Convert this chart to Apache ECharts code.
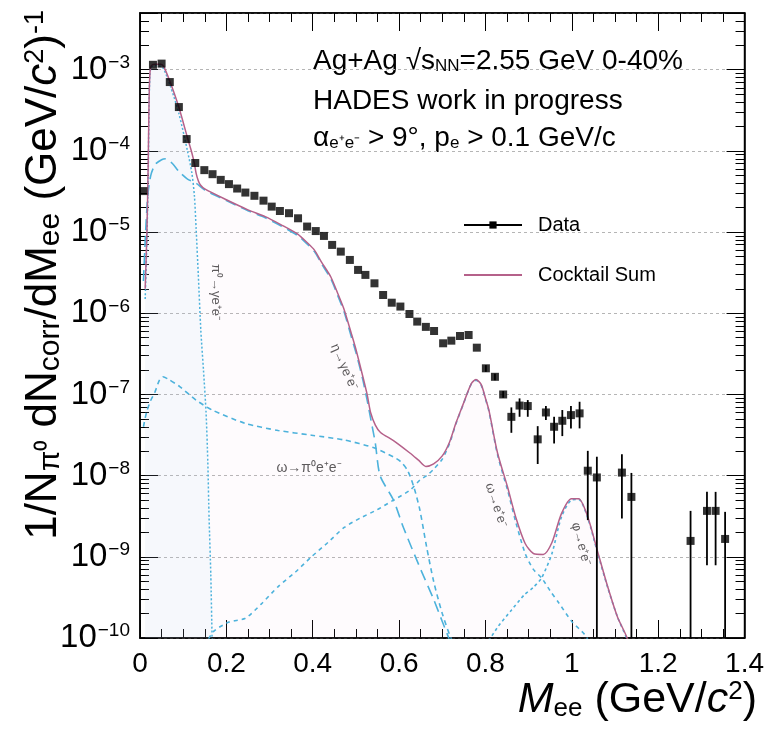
<!DOCTYPE html>
<html><head><meta charset="utf-8">
<script src="https://cdn.jsdelivr.net/npm/echarts@6/dist/echarts.min.js"></script>
<style>html,body{margin:0;padding:0;background:#fff}#c{width:767px;height:731px;background:#fff}</style>
</head><body><div id="c"></div>
<script>
// ---------- data ----------
const dataM = [0.008,0.030,0.050,0.069,0.090,0.108,0.128,0.149,0.168,0.187,0.206,0.225,0.244,0.265,0.286,0.305,0.324,0.345,0.366,0.387,0.407,0.426,0.445,0.465,0.486,0.505,0.522,0.543,0.563,0.583,0.603,0.624,0.642,0.662,0.681,0.702,0.721,0.741,0.761,0.780,0.801,0.822,0.841,0.860,0.879,0.898,0.921,0.940,0.959,0.978,0.998,1.018,1.037,1.058,1.116,1.138,1.275,1.313,1.333,1.355];
const dataY = [3.2e-5,1.15e-3,1.19e-3,7.05e-4,3.47e-4,1.40e-4,7.1e-5,5.8e-5,5.17e-5,4.4e-5,3.9e-5,3.44e-5,3.07e-5,2.8e-5,2.44e-5,2.06e-5,1.82e-5,1.71e-5,1.48e-5,1.17e-5,1.03e-5,8.97e-6,6.95e-6,5.75e-6,4.54e-6,3.42e-6,2.97e-6,2.34e-6,1.68e-6,1.35e-6,1.21e-6,9.8e-7,7.9e-7,6.8e-7,6.05e-7,4.27e-7,4.6e-7,5.25e-7,5.4e-7,3.77e-7,2.1e-7,1.65e-7,1.0e-7,5.3e-8,7.3e-8,7.2e-8,2.8e-8,6.0e-8,4.0e-8,4.74e-8,5.57e-8,5.85e-8,1.15e-8,9.5e-9,1.09e-8,5.47e-9,1.57e-9,3.68e-9,3.68e-9,1.66e-9];
// error bars (subset of points with visible errors)
const errM  = [0.801,0.822,0.841,0.860,0.879,0.898,0.921,0.940,0.959,0.978,0.998,1.018,1.037,1.058,1.116,1.138,1.275,1.313,1.333,1.355];
const errLo = [1.9e-7,1.5e-7,9.1e-8,3.37e-8,5.31e-8,5.31e-8,1.39e-8,4.83e-8,2.49e-8,3.07e-8,3.82e-8,3.82e-8,2.83e-9,1e-10,2.96e-9,1e-10,1e-10,7.87e-10,7.87e-10,1e-10];
const errHi = [2.3e-7,1.8e-7,1.1e-7,6.93e-8,8.95e-8,8.53e-8,4.07e-8,7.19e-8,5.31e-8,6.43e-8,7.19e-8,8.13e-8,2.02e-8,1.71e-8,1.84e-8,1.08e-8,3.68e-9,6.31e-9,6.31e-9,3.58e-9];

const sumM = [0.012,0.016,0.019,0.021,0.023,0.026,0.035,0.048,0.055,0.07,0.09,0.11,0.12,0.126,0.13,0.135,0.14,0.15,0.2,0.25,0.29,0.327,0.366,0.385,0.404,0.42,0.442,0.458,0.473,0.49,0.5,0.515,0.526,0.534,0.545,0.557,0.587,0.625,0.645,0.662,0.68,0.7,0.717,0.732,0.748,0.767,0.778,0.79,0.8,0.808,0.828,0.851,0.87,0.892,0.911,0.934,0.954,0.976,0.999,1.016,1.037,1.059,1.083,1.106,1.128,1.14];
const sumY = [2e-6,1e-5,7e-5,4.2e-4,9e-4,1.12e-3,1.17e-3,1.17e-3,1.09e-3,7.0e-4,3.45e-4,1.45e-4,9.5e-5,7e-5,5.3e-5,4.3e-5,3.8e-5,3.4e-5,2.5e-5,1.88e-5,1.55e-5,1.23e-5,9.4e-6,7.6e-6,6.0e-6,4.3e-6,2.8e-6,1.75e-6,1.1e-6,5.5e-7,3.6e-7,1.75e-7,1.0e-7,6.0e-8,4.2e-8,3.4e-8,2.7e-8,1.9e-8,1.55e-8,1.3e-8,1.4e-8,1.75e-8,2.6e-8,4.5e-8,7.5e-8,1.35e-7,1.53e-7,1.33e-7,9e-8,6.4e-8,1.9e-8,7.3e-9,3.1e-9,1.46e-9,1.1e-9,1.07e-9,1.5e-9,3.4e-9,5.2e-9,5.2e-9,3.1e-9,1.2e-9,4.3e-10,1.8e-10,1.0e-10,5e-11];

const pi0M = [0.012,0.016,0.019,0.021,0.023,0.026,0.035,0.048,0.055,0.07,0.09,0.11,0.12,0.126,0.130,0.135,0.141,0.147,0.153,0.157,0.160,0.164,0.167,0.169];
const pi0Y = [1.5e-6,8e-6,5e-5,3.8e-4,8.6e-4,1.08e-3,1.12e-3,1.1e-3,1.02e-3,6.4e-4,2.9e-4,1.0e-4,5.4e-5,2.8e-5,1.1e-5,3e-6,6e-7,2e-7,6e-8,1.5e-8,3e-9,6e-10,1e-10,5e-11];

const etaM = [0.008,0.013,0.018,0.025,0.035,0.05,0.06,0.075,0.09,0.11,0.13,0.15,0.2,0.25,0.29,0.327,0.366,0.385,0.404,0.42,0.442,0.458,0.473,0.49,0.5,0.515,0.526,0.535,0.545,0.556,0.587,0.61,0.65,0.68,0.70,0.715,0.725];
const etaY = [2.5e-6,1e-5,2.8e-5,5e-5,6.8e-5,7.8e-5,8e-5,7e-5,5.6e-5,4.5e-5,4.0e-5,3.3e-5,2.45e-5,1.83e-5,1.5e-5,1.19e-5,9.0e-6,7.3e-6,5.75e-6,4.1e-6,2.65e-6,1.65e-6,1.03e-6,5.0e-7,3.3e-7,1.6e-7,8.5e-8,4.8e-8,2.5e-8,1e-8,5e-9,2.3e-9,7e-10,3e-10,1.6e-10,1e-10,7e-11];

const omDalM = [0.008,0.015,0.025,0.034,0.045,0.053,0.065,0.092,0.13,0.168,0.244,0.32,0.397,0.473,0.542,0.587,0.603,0.62,0.635,0.648,0.664,0.68,0.70,0.72,0.735];
const omDalY = [4e-8,6e-8,8.5e-8,1.05e-7,1.5e-7,1.65e-7,1.55e-7,1.25e-7,8.5e-8,6.4e-8,4.4e-8,3.6e-8,3.15e-8,2.75e-8,2.2e-8,1.7e-8,1.5e-8,1.15e-8,7e-9,3.8e-9,1.3e-9,5e-10,2e-10,1e-10,7e-11];

const omM = [0.15,0.17,0.206,0.244,0.28,0.32,0.36,0.397,0.435,0.473,0.51,0.549,0.587,0.625,0.648,0.664,0.68,0.70,0.717,0.732,0.748,0.767,0.778,0.79,0.8,0.808,0.828,0.851,0.87,0.892,0.911,0.93,0.95,0.97,1.0,1.03,1.045];
const omY = [8e-11,1.2e-10,1.57e-10,1.75e-10,2.6e-10,4.3e-10,6.5e-10,1e-9,1.5e-9,2.3e-9,3.0e-9,3.8e-9,5e-9,6.6e-9,8.8e-9,1.0e-8,1.2e-8,1.6e-8,2.5e-8,4.4e-8,7.4e-8,1.34e-7,1.5e-7,1.3e-7,8.8e-8,6.2e-8,1.8e-8,6.7e-9,2.7e-9,1.1e-9,7e-10,5.5e-10,3.8e-10,2.7e-10,1.6e-10,1.1e-10,8e-11];

const phiM = [0.80,0.83,0.86,0.89,0.911,0.93,0.954,0.976,0.999,1.016,1.037,1.059,1.083,1.106,1.125,1.135];
const phiY = [8e-11,1.4e-10,2.2e-10,3.4e-10,4.2e-10,5.5e-10,1.1e-9,3.1e-9,5.0e-9,5.1e-9,3.0e-9,1.15e-9,4.2e-10,1.8e-10,1.05e-10,7e-11];

const xMin = 0, xMax = 1.4, xStep = 0.2;
const yMin = 1e-10, yMax = 5e-3;

// ---------- layout ----------
const GL = 140, GR = 15, GT = 13, GB = 93;

// ---------- helpers ----------
const zip = (a, b) => a.map((v, i) => [v, b[i]]);
const FONT = '"Liberation Sans", Arial, Helvetica, sans-serif';
const CYAN = '#44b2dc';

const chart = echarts.init(document.getElementById('c'), null, {renderer: 'canvas'});

function compLine(name, m, y, dash, width, extra) {
  return Object.assign({
    name: name, type: 'line', data: zip(m, y), showSymbol: false, symbol: 'none',
    smooth: 0.25, clip: true, silent: true, z: 2,
    lineStyle: {color: CYAN, width: width || 1.6, type: dash}
  }, extra || {});
}

const yTickCfg = {show: true, inside: true, length: 18, lineStyle: {color: '#000', width: 1}};
const yMinorCfg = {show: true, splitNumber: 9, length: 9, lineStyle: {color: '#000', width: 1}};

const option = {
  animation: false,
  textStyle: {fontFamily: FONT},
  grid: {left: GL, right: GR, top: GT, bottom: GB, show: true, borderColor: '#000', borderWidth: 1.5, backgroundColor: 'transparent'},
  legend: {
    data: ['Data', {name: 'Cocktail Sum', itemStyle: {opacity: 0}}], orient: 'vertical', left: 458, top: 209,
    itemWidth: 58, itemHeight: 9, itemGap: 28, selectedMode: false,
    textStyle: {fontSize: 20, lineHeight: 22, fontFamily: FONT, color: '#000', padding: [0, 0, 0, 11]}
  },
  xAxis: [
    {type: 'value', min: xMin, max: xMax, interval: xStep, position: 'bottom',
     axisLine: {show: true, onZero: false, lineStyle: {color: '#000', width: 1.5}},
     axisTick: {show: true, inside: true, length: 18, lineStyle: {color: '#000', width: 1}},
     minorTick: {show: true, splitNumber: 4, length: 9, lineStyle: {color: '#000', width: 1}},
     splitLine: {show: false},
     axisLabel: {fontSize: 28, color: '#000', margin: 12, fontFamily: FONT}},
    {type: 'value', min: xMin, max: xMax, interval: xStep, position: 'top',
     axisLine: {show: true, onZero: false, lineStyle: {color: '#000', width: 1.5}},
     axisTick: {show: true, inside: true, length: 18, lineStyle: {color: '#000', width: 1}},
     minorTick: {show: true, splitNumber: 4, length: 9, lineStyle: {color: '#000', width: 1}},
     splitLine: {show: false}, axisLabel: {show: false}}
  ],
  yAxis: [
    {type: 'log', logBase: 10, min: yMin, max: yMax, position: 'left',
     axisLine: {show: true, onZero: false, lineStyle: {color: '#000', width: 1.5}},
     axisTick: yTickCfg, minorTick: yMinorCfg,
     splitLine: {show: true, lineStyle: {color: '#b5b5b5', width: 1, type: [3, 3]}},
     axisLabel: {
       margin: 10, color: '#000',
       formatter: function (v) {
         const l = Math.log10(v), e = Math.round(l);
         if (Math.abs(l - e) > 1e-6) return '';
         return '{b|10}{s|\u2212' + (-e) + '}';
       },
       rich: {
         b: {fontSize: 33, fontFamily: FONT, color: '#000'},
         s: {fontSize: 19, fontFamily: FONT, color: '#000', verticalAlign: 'top', padding: [0, 0, 0, 1]}
       }
     }},
    {type: 'log', logBase: 10, min: yMin, max: yMax, position: 'right',
     axisLine: {show: true, onZero: false, lineStyle: {color: '#000', width: 1.5}},
     axisTick: yTickCfg, minorTick: yMinorCfg, splitLine: {show: false}, axisLabel: {show: false}}
  ],
  series: [
    compLine('pi0', pi0M, pi0Y, [2, 2], 1.5, {areaStyle: {color: 'rgba(150,215,240,0.12)'}}),
    compLine('eta', etaM, etaY, [11, 6], 1.6),
    compLine('omDal', omDalM, omDalY, [5, 4], 1.6),
    compLine('omega', omM, omY, [4, 4], 1.6),
    compLine('phi', phiM, phiY, [3, 3], 1.6),
    {name: 'Cocktail Sum', type: 'line', data: zip(sumM, sumY), showSymbol: false, symbol: 'none',
     smooth: 0.25, clip: true, silent: true, z: 3,
     lineStyle: {color: '#b5618a', width: 1.5},
     itemStyle: {color: '#b5618a', opacity: 0},
     areaStyle: {color: 'rgba(240,190,215,0.08)'}},
    {name: 'Data', type: 'line', data: [], symbol: 'rect', symbolSize: 8,
     itemStyle: {color: '#000'}, lineStyle: {color: '#000', width: 1.5}},
    {type: 'custom', name: 'errors', data: errM.map((m, i) => [m, errLo[i], errHi[i]]),
     encode: {x: 0, y: [1, 2]}, silent: true, z: 5, clip: true,
     renderItem: function (params, api) {
       const a = api.coord([api.value(0), api.value(1)]);
       const b = api.coord([api.value(0), api.value(2)]);
       return {type: 'line', shape: {x1: a[0], y1: a[1], x2: b[0], y2: b[1]}, style: {stroke: '#000', lineWidth: 1.8}};
     }},
    {name: 'dataPts', type: 'scatter', data: zip(dataM, dataY), symbol: 'rect', symbolSize: 8,
     itemStyle: {color: '#000'}, z: 6, silent: true}
  ],
  graphic: [
    {type: 'text', left: 313, top: 47, style: {
      text: '{n|Ag+Ag }{r|\u221A}{n|s}{sb|NN}{n|=2.55 GeV 0-40%}', fill: '#000',
      rich: {n: {fontSize: 28, fontFamily: FONT}, r: {fontSize: 28, fontFamily: FONT},
             sb: {fontSize: 17, fontFamily: FONT, verticalAlign: 'bottom'}}}},
    {type: 'text', left: 313, top: 87, style: {text: 'HADES work in progress', fill: '#000', font: '28px ' + FONT}},
    {type: 'text', left: 313, top: 124, style: {
      text: '{n|\u03B1}{sb|e\u207Ae\u207B}{n| > 9\u00B0, p}{sb|e}{n| > 0.1 GeV/c}', fill: '#000',
      rich: {n: {fontSize: 28, fontFamily: FONT}, sb: {fontSize: 17, fontFamily: FONT, verticalAlign: 'bottom'}}}},
    {type: 'text', x: 44, y: 10, rotation: Math.PI / 2, style: {
      text: '{n|1/N}{sb|\u03C0\u2070}{n| dN}{sb|corr}{n|/dM}{sb|ee}{n| (GeV/}{it|c}{sp|2}{n|)}{sp|-1}',
      align: 'right', verticalAlign: 'middle', fill: '#000',
      rich: {n: {fontSize: 44, fontFamily: FONT}, it: {fontSize: 44, fontFamily: FONT, fontStyle: 'italic'},
             sb: {fontSize: 30, fontFamily: FONT, verticalAlign: 'bottom'},
             sp: {fontSize: 27, fontFamily: FONT, verticalAlign: 'top'}}}},
    {type: 'text', x: 757, y: 700, style: {
      text: '{it|M}{sb|ee}{n| (GeV/}{it|c}{sp|2}{n|)}', align: 'right', verticalAlign: 'middle', fill: '#000',
      rich: {n: {fontSize: 43, fontFamily: FONT}, it: {fontSize: 43, fontFamily: FONT, fontStyle: 'italic'},
             sb: {fontSize: 26, fontFamily: FONT, verticalAlign: 'bottom'},
             sp: {fontSize: 26, fontFamily: FONT, verticalAlign: 'top'}}}},
    {type: 'text', x: 216, y: 292, rotation: -Math.PI / 2, style: {text: '\u03C0\u2070\u2192\u03B3e\u207Ae\u207B', align: 'center', verticalAlign: 'middle', fill: '#555', font: '13px ' + FONT}},
    {type: 'text', x: 344, y: 367, rotation: -66 * Math.PI / 180, style: {text: '\u03B7\u2192\u03B3e\u207Ae\u207B', align: 'center', verticalAlign: 'middle', fill: '#555', font: '13px ' + FONT}},
    {type: 'text', x: 309, y: 468, style: {text: '\u03C9\u2192\u03C0\u2070e\u207Ae\u207B', align: 'center', verticalAlign: 'middle', fill: '#555', font: '14px ' + FONT}},
    {type: 'text', x: 496, y: 505, rotation: -72 * Math.PI / 180, style: {text: '\u03C9\u2192e\u207Ae\u207B', align: 'center', verticalAlign: 'middle', fill: '#555', font: '13px ' + FONT}},
    {type: 'text', x: 581, y: 544, rotation: -75 * Math.PI / 180, style: {text: '\u03C6\u2192e\u207Ae\u207B', align: 'center', verticalAlign: 'middle', fill: '#555', font: '13px ' + FONT}}
  ]
};
chart.setOption(option);
</script>
</body></html>
